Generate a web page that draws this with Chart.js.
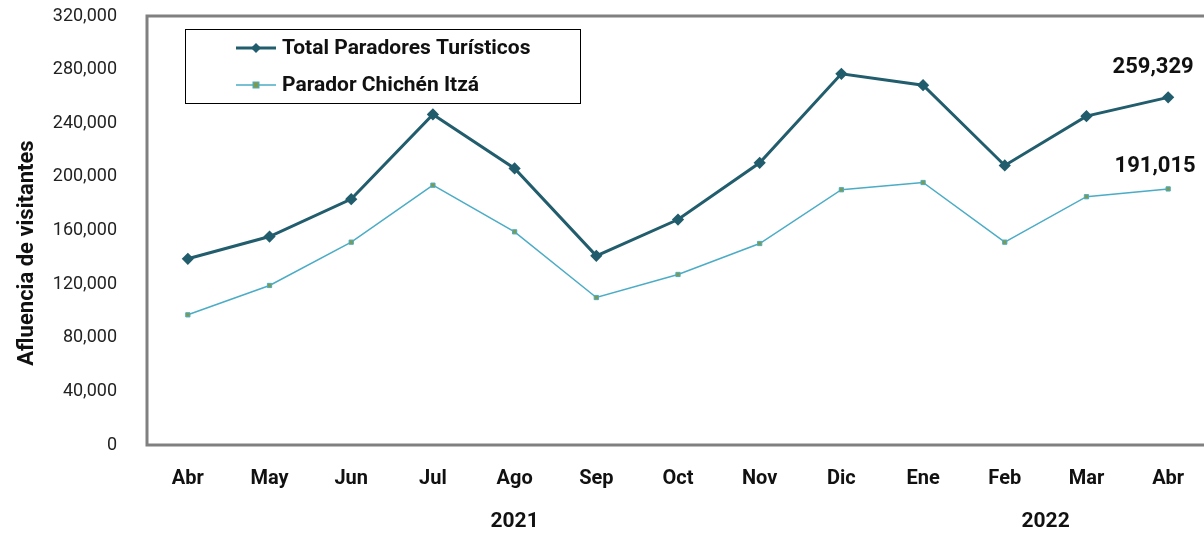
<!DOCTYPE html>
<html>
<head>
<meta charset="utf-8">
<script src="https://cdn.jsdelivr.net/npm/chart.js@4"></script>
<style>
  html, body { margin: 0; background: #fff; overflow: hidden; }
  canvas { display: block; }
</style>
</head>
<body>
<!-- wider than the window: the plot frame runs past the right edge -->
<canvas id="chart" width="1216" height="535"></canvas>
<script>
const months = ['Abr', 'May', 'Jun', 'Jul', 'Ago', 'Sep', 'Oct', 'Nov', 'Dic', 'Ene', 'Feb', 'Mar', 'Abr'];
const totalParadores = [138900, 155500, 183400, 246600, 206300, 141100, 168200, 210500, 276900, 268400, 208500, 245300, 259329];
const chichenItza = [97100, 119000, 151300, 193800, 159000, 110000, 127200, 150300, 190400, 195800, 151300, 185200, 191015];
// year label goes under the middle of these category indexes
const years = [{ label: '2021', from: 4, to: 4 }, { label: '2022', from: 10, to: 11 }];
const yTitle = 'Afluencia de visitantes';

const FONT = 'Roboto, "Liberation Sans", sans-serif';

const framePlugin = {
    id: 'frame',
    beforeDatasetsDraw(chart) {
        const { ctx, chartArea: a } = chart;
        ctx.save();
        ctx.strokeStyle = '#808080';
        ctx.lineWidth = 3;
        ctx.strokeRect(a.left, a.top, a.right - a.left + 10, a.bottom - a.top);
        ctx.restore();
    },
    afterDraw(chart) {
        const { ctx } = chart;
        const x = chart.scales.x;
        ctx.save();
        ctx.fillStyle = '#111';
        ctx.textAlign = 'center';
        ctx.textBaseline = 'middle';
        ctx.font = 'bold 21px ' + FONT;
        years.forEach(y => {
            const px = (x.getPixelForValue(y.from) + x.getPixelForValue(y.to)) / 2;
            ctx.fillText(y.label, px, 522);
        });

        // y axis title
        ctx.save();
        ctx.translate(27, 253);
        ctx.rotate(-Math.PI / 2);
        ctx.font = 'bold 22px ' + FONT;
        ctx.fillText(yTitle, 0, 0);
        ctx.restore();

        // last-value labels
        const offs = [[-15, -30], [-13, -22]];
        chart.data.datasets.forEach((ds, i) => {
            const pts = chart.getDatasetMeta(i).data;
            const p = pts[pts.length - 1];
            const v = ds.data[ds.data.length - 1];
            ctx.font = 'bold 22px ' + FONT;
            ctx.textAlign = 'center';
            ctx.fillText(v.toLocaleString('en-US'), p.x + offs[i][0], p.y + offs[i][1]);
        });

        // legend box
        ctx.strokeStyle = '#000';
        ctx.lineWidth = 1;
        ctx.strokeRect(185.5, 29.5, 395, 74);
        ctx.textAlign = 'left';
        ctx.font = 'bold 21px ' + FONT;
        chart.data.datasets.forEach((ds, i) => {
            const cy = 48 + i * 37;
            ctx.strokeStyle = ds.borderColor;
            ctx.lineWidth = ds.borderWidth;
            ctx.beginPath();
            ctx.moveTo(236, cy);
            ctx.lineTo(276, cy);
            ctx.stroke();
            ctx.fillStyle = ds.pointBackgroundColor;
            ctx.strokeStyle = ds.pointBorderColor;
            ctx.lineWidth = 1;
            if (i === 0) {
                ctx.beginPath();
                ctx.moveTo(256, cy - 5); ctx.lineTo(261, cy); ctx.lineTo(256, cy + 5); ctx.lineTo(251, cy);
                ctx.closePath(); ctx.fill();
            } else {
                ctx.fillRect(253, cy - 3, 6, 6);
                ctx.strokeRect(253, cy - 3, 6, 6);
            }
            ctx.fillStyle = '#111';
            ctx.fillText(ds.label, 282, cy + 1);
        });
        ctx.restore();
    }
};

new Chart(document.getElementById('chart').getContext('2d'), {
    type: 'line',
    data: {
        labels: months,
        datasets: [{
            label: 'Total Paradores Turísticos',
            data: totalParadores,
            borderColor: '#215D6C',
            borderWidth: 3,
            pointStyle: 'rectRot',
            pointRadius: 4,
            pointBackgroundColor: '#215D6C',
            pointBorderColor: '#215D6C',
            tension: 0
        }, {
            label: 'Parador Chichén Itzá',
            data: chichenItza,
            borderColor: '#4BACC6',
            borderWidth: 1.5,
            pointStyle: 'rect',
            pointRadius: 3,
            pointBackgroundColor: '#7F9A48',
            pointBorderColor: '#4BACC6',
            pointBorderWidth: 1,
            tension: 0
        }]
    },
    options: {
        responsive: false,
        animation: false,
        layout: { padding: { top: 16, right: 0 } },
        plugins: { legend: { display: false }, tooltip: { enabled: false } },
        scales: {
            x: {
                offset: true,
                grid: { display: false },
                border: { display: false },
                ticks: { color: '#111', font: { family: FONT, size: 20, weight: 'bold' }, padding: 14, maxRotation: 0 },
                afterFit(s) { s.height = 90; s.paddingLeft = 0; s.paddingRight = 0; }
            },
            y: {
                min: 0,
                max: 320000,
                grid: { display: false },
                border: { display: false },
                ticks: {
                    stepSize: 40000,
                    color: '#222',
                    padding: 22,
                    font: { family: FONT, size: 18 },
                    callback: v => v.toLocaleString('en-US')
                },
                afterFit(s) { s.width = 147; s.paddingTop = 0; s.paddingBottom = 0; }
            }
        }
    },
    plugins: [framePlugin]
});
</script>
</body>
</html>
